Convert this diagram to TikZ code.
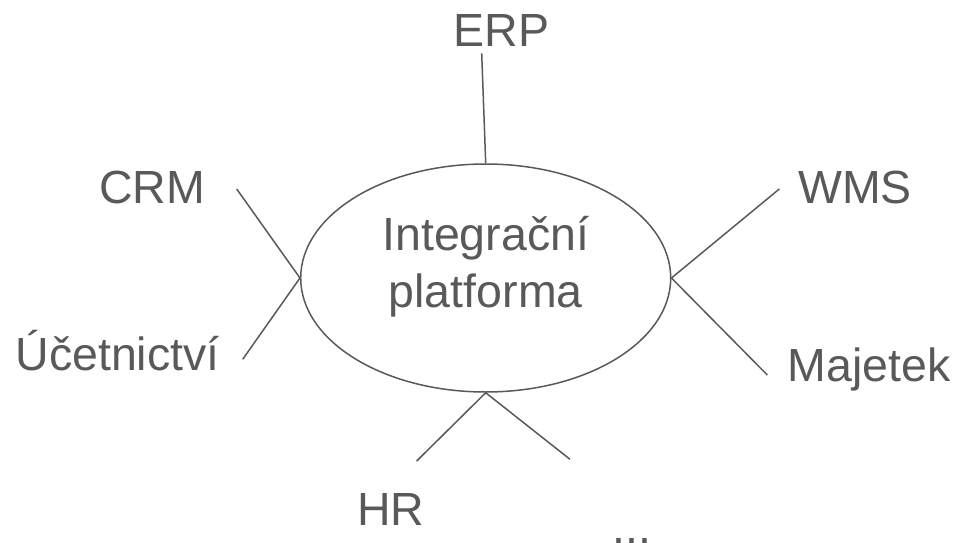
\documentclass[tikz,border=0pt]{standalone}
\usepackage{fontspec}
\setmainfont{Liberation Sans}
\usetikzlibrary{shapes.geometric}
\definecolor{ink}{HTML}{595959}
\begin{document}
\begin{tikzpicture}[x=1pt,y=-1pt,
  lbl/.style={text=ink, font=\fontsize{46.5}{56.7}\selectfont, inner sep=0pt, anchor=base},
  conn/.style={draw=ink, line width=1.5pt},
  hub/.style={ellipse, draw=ink, line width=1.5pt, minimum width=370pt, minimum height=228pt, inner sep=0pt}]
\useasboundingbox (0,0) rectangle (961,543);
\node[hub] (P) at (485.7,278) {};
\node[lbl, anchor=center, align=center] (Pt) at (485.7,266.5) {Integrační\\platforma};
\node[lbl] (erp) at (501.5,46.7) {ERP};
\node[lbl] (crm) at (152,203.3) {CRM};
\node[lbl] (uc) at (117.5,370) {Účetnictví};
\node[lbl] (wms) at (855,203.3) {WMS};
\node[lbl] (maj) at (869,381.7) {Majetek};
\node[lbl] (hr) at (390.7,525) {HR};
\node[lbl] (dots) at (632,543.5) {...};
\coordinate (cE) at (481.7,53.3);
\coordinate (cC) at (236.7,189);
\coordinate (cU) at (242.7,359.3);
\coordinate (cW) at (779.3,189);
\coordinate (cM) at (767.3,375);
\coordinate (cH) at (416.7,461);
\coordinate (cD) at (570,459.3);
\draw[conn] (cE) -- (P.north);
\draw[conn] (cC) -- (P.west);
\draw[conn] (cU) -- (P.west);
\draw[conn] (cW) -- (P.east);
\draw[conn] (cM) -- (P.east);
\draw[conn] (cH) -- (P.south);
\draw[conn] (cD) -- (P.south);
\end{tikzpicture}
\end{document}
